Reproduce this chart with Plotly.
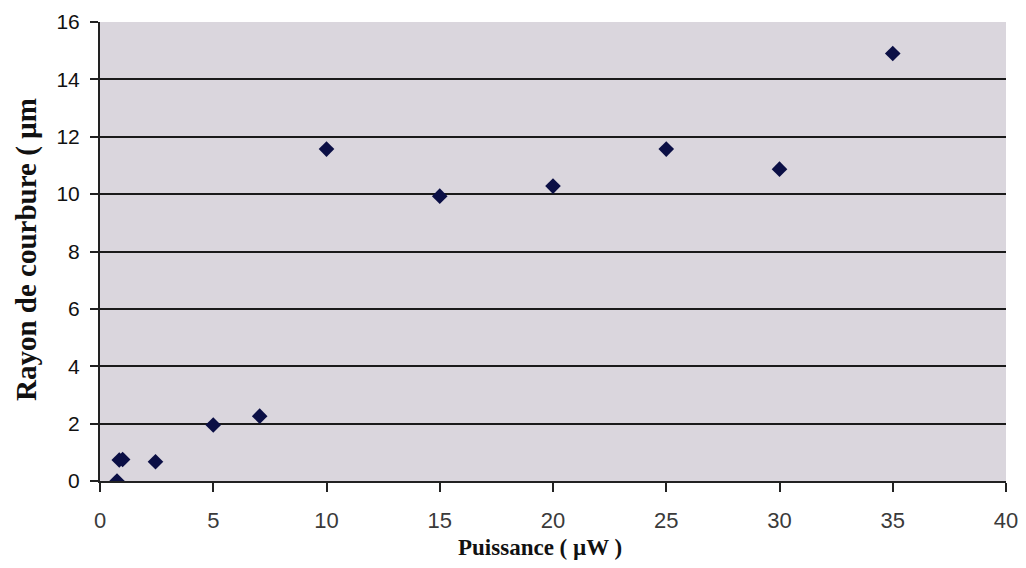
import plotly.graph_objects as go

puissance = [0.75, 0.85, 1.0, 2.45, 5.0, 7.05, 10.0, 15.0, 20.0, 25.0, 30.0, 35.0]
rayon = [0.0, 0.73, 0.75, 0.67, 1.95, 2.26, 11.57, 9.93, 10.28, 11.57, 10.87, 14.9]
x_ticks = [0, 5, 10, 15, 20, 25, 30, 35, 40]
y_ticks = [0, 2, 4, 6, 8, 10, 12, 14, 16]

# page body has an 8px margin; figure sized to fit inside the viewport
OFF = 8
W, H = 1018, 552
L, R, T, B = 100 - OFF, W + OFF - 1006, 22 - OFF, H + OFF - 481

fig = go.Figure()
fig.add_trace(go.Scatter(
    x=puissance, y=rayon, mode="markers",
    marker=dict(symbol="diamond", size=12, color="#0b0f45"),
    showlegend=False,
))

fig.update_layout(
    width=W, height=H,
    margin=dict(l=L, r=R, t=T, b=B, autoexpand=False),
    paper_bgcolor="white",
    plot_bgcolor="#dad6dd",
    xaxis=dict(
        range=[0, 40], tickvals=x_ticks, showgrid=False, zeroline=False,
        showline=True, linecolor="#222", linewidth=2, automargin=False,
        ticks="outside", ticklen=9, tickwidth=2, tickcolor="#222", ticklabelstandoff=10,
        tickfont=dict(family="Liberation Sans Narrow, Liberation Sans, Arial", size=22, color="#3a3a3a"),
    ),
    yaxis=dict(
        range=[0, 16], tickvals=y_ticks, showgrid=True, gridcolor="#1a1a1a", gridwidth=2,
        zeroline=False, showline=True, linecolor="#222", linewidth=2, automargin=False,
        ticks="outside", ticklen=8, tickwidth=2, tickcolor="#222", ticklabelstandoff=6,
        tickfont=dict(family="Liberation Sans, Arial", size=21, color="#111"),
        tickprefix="<b>", ticksuffix="</b>",
    ),
)

pw = W - L - R
ph = H - T - B


def px_to_paper(px, py):
    return (px - OFF - L) / pw, (H - B - (py - OFF)) / ph


ax, ay = px_to_paper(540, 547)
bx, by = px_to_paper(26, 250)
fig.add_annotation(text="<b>Puissance ( µW )</b>", x=ax, y=ay, xref="paper", yref="paper",
                   showarrow=False, xanchor="center", yanchor="middle",
                   font=dict(family="Liberation Serif, Times New Roman", size=23, color="#111"))
fig.add_annotation(text="<b>Rayon de courbure ( µm</b>", x=bx, y=by, xref="paper", yref="paper",
                   showarrow=False, textangle=-90, xanchor="center", yanchor="middle",
                   font=dict(family="Liberation Serif, Times New Roman", size=29, color="#111"))

fig.write_html("out.html")
